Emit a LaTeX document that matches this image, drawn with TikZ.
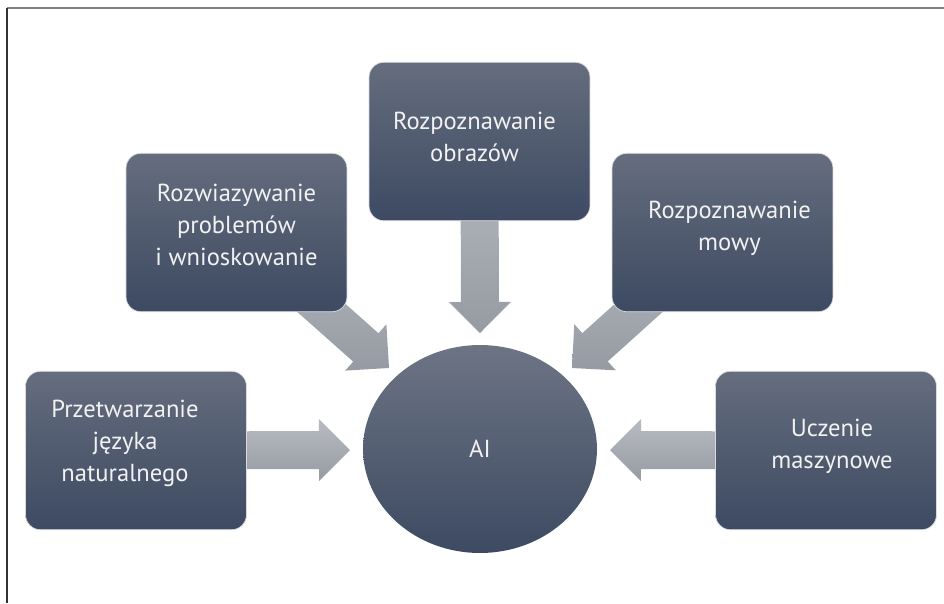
\documentclass[tikz,border=0pt]{standalone}
\usepackage{fontspec}
\setmainfont{PT Sans}
\usetikzlibrary{calc,shapes.geometric}
\pgfdeclarelayer{tlo}
\pgfsetlayers{tlo,main}
\definecolor{blokgora}{RGB}{101,109,126}
\definecolor{blokdol}{RGB}{61,74,98}
\definecolor{strgora}{RGB}{184,187,193}
\definecolor{strdol}{RGB}{150,154,162}
\tikzset{
	blok/.style={rectangle, rounded corners=0.3cm, minimum width=4.42cm, minimum height=3.17cm, top color=blokgora, bottom color=blokdol, draw=white!75!blokgora, line width=0.4pt},
	etykieta/.style={text=white!95!black, align=center, font=\fontsize{14}{18.2}\selectfont},
	strzalka/.style={top color=strgora, bottom color=strdol, draw=none}
}
\def\polszer{0.38cm}
\def\polgrot{0.62cm}
\def\dlgrot{0.62cm}
\newcommand\blokstrzalka[2]{%
	\coordinate (s0) at ($(#2)!\dlgrot!(#1)$);
	\shade[strzalka] ($(#1)!\polszer!90:(#2)$) -- ($(s0)!\polszer!90:(#2)$) -- ($(s0)!\polgrot!90:(#2)$) -- (#2) -- ($(s0)!\polgrot!-90:(#2)$) -- ($(s0)!\polszer!-90:(#2)$) -- ($(#1)!\polszer!-90:(#2)$) -- cycle;
}

\begin{document}
\begin{tikzpicture}[x=0.02cm, y=-0.02cm]
		%%%%% START %%%%%
		\useasboundingbox (0, 0) rectangle (944, 603);
		
		\draw[line width=0.04cm, color=black!50] (7, 8) -- (944, 8);
		\draw[line width=0.03cm, color=black!80] (7, 8) -- (7, 603);
		
		% srodek
		\node[ellipse, minimum width=4.68cm, minimum height=4.16cm, inner sep=0pt, top color=blokgora!95!white, bottom color=blokdol] (ai) at (480, 449) {};
		\node[etykieta] at (ai) {AI};
		
		% bloki
		\node[blok] (problemy) at (236.5, 232.5) {};
		\node[blok] (obrazy) at (479.5, 141.5) {};
		\node[blok] (mowa) at (722.5, 232.5) {};
		\node[blok] (jezyk) at (136, 450.5) {};
		\node[blok] (uczenie) at (826, 450.5) {};
		
		\node[etykieta] at ($(problemy)+(0, -8)$) {Rozwiazywanie\\problemów\\i wnioskowanie};
		\node[etykieta] at ($(obrazy)+(-5, -5)$) {Rozpoznawanie\\obrazów};
		\node[etykieta] at ($(mowa)+(7, -4)$) {Rozpoznawanie\\mowy};
		\node[etykieta] at ($(jezyk)+(-11, -7)$) {Przetwarzanie\\języka\\naturalnego};
		\node[etykieta] at ($(uczenie)+(6, -4)$) {Uczenie\\maszynowe};
		
		% strzalki
		\coordinate (grot-problemy) at (389, 368);
		\coordinate (grot-obrazy) at (480, 333);
		\coordinate (grot-mowa) at (572, 368);
		\coordinate (grot-jezyk) at (350, 450);
		\coordinate (grot-uczenie) at (610, 450);
		
		\begin{pgfonlayer}{tlo}
			\blokstrzalka{problemy.center}{grot-problemy}
			\blokstrzalka{obrazy.center}{grot-obrazy}
			\blokstrzalka{mowa.center}{grot-mowa}
			\blokstrzalka{jezyk.center}{grot-jezyk}
			\blokstrzalka{uczenie.center}{grot-uczenie}
		\end{pgfonlayer}
		
		%%%%% END %%%%%
\end{tikzpicture}
\end{document}
